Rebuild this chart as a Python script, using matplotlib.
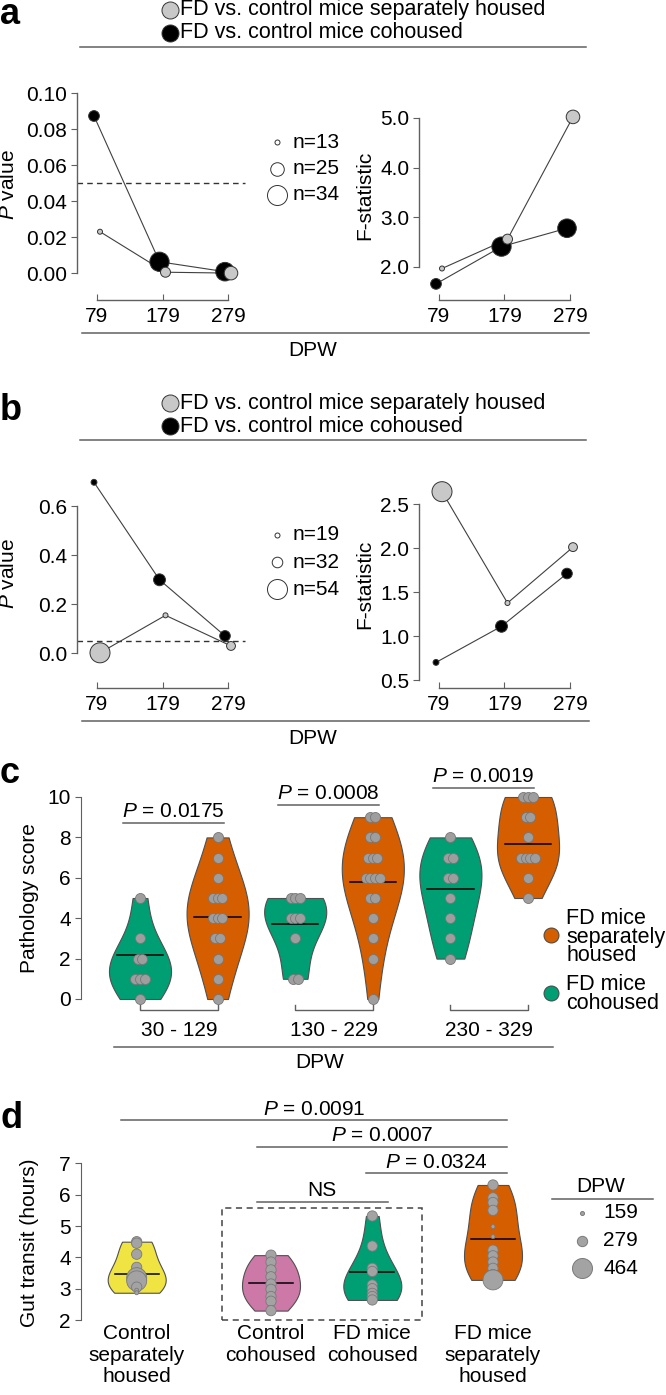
import numpy as np
import matplotlib
matplotlib.use("Agg")
import matplotlib.pyplot as plt
import matplotlib.transforms as mtransforms
from matplotlib.lines import Line2D
from matplotlib.patches import Rectangle

plt.rcParams['font.family'] = ['Liberation Sans', 'DejaVu Sans']
plt.rcParams['mathtext.fontset'] = 'custom'
plt.rcParams['mathtext.rm'] = 'Liberation Sans'
plt.rcParams['mathtext.it'] = 'Liberation Sans:italic'

### data
dpw = [79, 179, 279]

# panel a
a_p_sep = [0.0231, 0.0006, 0.0001]
a_p_co = [0.0874, 0.0064, 0.0009]
a_f_sep = [1.97, 2.56, 5.02]
a_f_co = [1.66, 2.41, 2.78]
a_n_sep = [13, 20, 25]
a_n_co = [21, 33, 32]
a_n_leg = [13, 25, 34]

# panel b
b_p_sep = [0.002, 0.155, 0.03]
b_p_co = [0.698, 0.30, 0.071]
b_f_sep = [2.64, 1.375, 2.01]
b_f_co = [0.70, 1.11, 1.71]
b_n_sep = [54, 19, 28]
b_n_co = [21, 35, 32]
b_n_leg = [19, 32, 54]

# panel c (pathology score)
c_groups = ['30 - 129', '130 - 229', '230 - 329']
c_co = [[0, 1, 1, 1, 2, 2, 3, 5],
        [1, 1, 3, 4, 4, 4, 5, 5, 5],
        [2, 3, 4, 5, 6, 6, 7, 7, 8]]
c_sep = [[0, 1, 2, 3, 3, 4, 4, 4, 5, 5, 5, 6, 7, 8],
         [0, 2, 3, 4, 5, 5, 6, 6, 6, 6, 7, 7, 7, 8, 8, 9, 9],
         [5, 6, 7, 7, 7, 7, 8, 9, 9, 10, 10, 10]]
c_co_mean = [2.2, 3.7, 5.45]
c_sep_mean = [4.05, 5.8, 7.67]
c_pvals = ['0.0175', '0.0008', '0.0019']

# panel d (gut transit)
d_groups = ['Control\nseparately\nhoused', 'Control\ncohoused',
            'FD mice\ncohoused', 'FD mice\nseparately\nhoused']
d_vals = [[4.5, 4.45, 4.1, 3.68, 3.6, 3.35, 3.25, 3.05, 2.95, 2.87],
          [4.07, 3.85, 3.6, 3.38, 3.15, 2.98, 2.75, 2.6, 2.3],
          [5.32, 4.36, 3.65, 3.55, 3.12, 3.0, 2.85, 2.75, 2.64],
          [6.31, 5.9, 5.75, 5.5, 4.98, 4.66, 4.23, 4.05, 3.85, 3.65, 3.45, 3.28]]
d_dpw = [[279, 279, 279, 279, 159, 464, 464, 279, 159, 159],
         [279, 279, 279, 279, 279, 279, 279, 279, 279],
         [279, 279, 279, 279, 279, 279, 279, 279, 279],
         [279, 279, 279, 279, 159, 159, 279, 279, 279, 279, 279, 464]]
d_mean = [3.46, 3.17, 3.52, 4.6]
d_pairs = [(0, 3), (1, 3), (2, 3), (1, 2)]
d_plabels = ['$P$ = 0.0091', '$P$ = 0.0007', '$P$ = 0.0324', 'NS']
d_dpw_leg = [159, 279, 464]

### layout helpers (pixel coordinates, origin top-left)
W, H = 666, 1395
FS = 15
GL = '#606060'
GREEN = '#009E73'
ORANGE = '#D55E00'
PINK = '#CC79A7'
YELLOW = '#F0E442'
LGREY = '#c8c8c8'

fig = plt.figure(figsize=(W / 100, H / 100), dpi=100)


def fx(x):
    return x / W


def fy(y):
    return 1 - y / H


def px_axes(x0, y0, x1, y1):
    return fig.add_axes([fx(x0), fy(y1), (x1 - x0) / W, (y1 - y0) / H])


def span(p0, p1, ref_px, ref_val, ppu):
    return ref_val + (p0 - ref_px) / ppu, ref_val + (p1 - ref_px) / ppu


def ftext(x, y, s, **kw):
    kw.setdefault('fontsize', FS)
    fig.text(fx(x), fy(y), s, **kw)


def fline(x0, x1, y, **kw):
    fig.add_artist(Line2D([fx(x0), fx(x1)], [fy(y), fy(y)],
                          transform=fig.transFigure, color=GL, lw=1.1, **kw))


def fdot(x, y, d, fc, ec='#333333'):
    fig.add_artist(Line2D([fx(x)], [fy(y)], transform=fig.transFigure,
                          marker='o', ms=d * 0.72, mfc=fc, mec=ec, mew=0.7,
                          ls='none'))


def n_diam(n, leg):
    return 5 + (np.asarray(n, float) - leg[0]) / (leg[-1] - leg[0]) * 15


def dot_line(ax, ys, ns, leg, fc, shift, z):
    x = np.array(dpw, float) + shift
    d = n_diam(ns, leg)
    ax.plot(x, ys, color='#404040', lw=0.8, zorder=2, clip_on=False)
    ax.scatter(x, ys, s=(d * 0.72) ** 2, c=fc, edgecolors='#333333',
               linewidths=0.7, zorder=z, clip_on=False)


def style_pair(ax, yticks, fmt):
    for s in ['top', 'right']:
        ax.spines[s].set_visible(False)
    ax.spines['left'].set_bounds(yticks[0], yticks[-1])
    ax.spines['bottom'].set_bounds(dpw[0], dpw[-1])
    for s in ['left', 'bottom']:
        ax.spines[s].set_color(GL)
        ax.spines[s].set_linewidth(1.0)
    ax.set_xticks(dpw)
    ax.set_xticklabels([str(v) for v in dpw])
    ax.set_yticks(yticks)
    ax.set_yticklabels([fmt % v for v in yticks])
    ax.tick_params(axis='x', direction='in', length=4, pad=5, labelsize=FS, color=GL)
    ax.tick_params(axis='y', direction='out', length=4, pad=3, labelsize=FS, color=GL)


dodge = 3 / 0.655

### panels a and b
panels = [
    dict(top=0, p_sep=a_p_sep, p_co=a_p_co, f_sep=a_f_sep, f_co=a_f_co,
         n_sep=a_n_sep, n_co=a_n_co, leg=a_n_leg, y0=80, y1=300,
         pcal=(273.3, 0.0, 1800), fcal=(267, 2.0, 49.7),
         pticks=[0, 0.02, 0.04, 0.06, 0.08, 0.10], pfmt='%.2f',
         fticks=[2, 3, 4, 5], letter='a', lbase=24, ny=[142, 168.5, 195]),
    dict(top=393, p_sep=b_p_sep, p_co=b_p_co, f_sep=b_f_sep, f_co=b_f_co,
         n_sep=b_n_sep, n_co=b_n_co, leg=b_n_leg, y0=470, y1=688,
         pcal=(653.3, 0.0, 245), fcal=(636, 1.0, 88),
         pticks=[0, 0.2, 0.4, 0.6], pfmt='%.1f',
         fticks=[0.5, 1.0, 1.5, 2.0, 2.5], letter='b', lbase=420,
         ny=[535, 562, 589]),
]

for P in panels:
    t = P['top']
    y0, y1 = P['y0'], P['y1']
    ftext(0, P['lbase'], P['letter'], fontsize=26, fontweight='bold', va='baseline')
    # group legend
    fdot(170, t + 10, 17, LGREY)
    ftext(180, t + 10, 'FD vs. control mice separately housed', va='center',
          fontsize=15.5)
    fdot(170, t + 33, 17, 'black')
    ftext(180, t + 33, 'FD vs. control mice cohoused', va='center', fontsize=15.5)
    fline(80, 586, t + 47)

    # P value
    ax = px_axes(77, y0, 250, y1)
    ax.set_xlim(span(77, 250, 97, 79, 0.655))
    ref, val, ppu = P['pcal']
    ax.set_ylim(span(y1, y0, ref, val, -ppu))
    ax.axhline(0.05, xmin=0, xmax=(245 - 77) / (250 - 77), color='#333333',
               lw=1.0, ls=(0, (4, 3)), zorder=1)
    dot_line(ax, P['p_co'], P['n_co'], P['leg'], 'black', -dodge, 3)
    dot_line(ax, P['p_sep'], P['n_sep'], P['leg'], LGREY, dodge, 4)
    style_pair(ax, P['pticks'], P['pfmt'])
    ftext(9, (y0 + y1) / 2 - 5, '$P$ value', rotation=90, ha='center', va='center')

    # F statistic
    ax2 = px_axes(419, y0, 590, y1)
    ax2.set_xlim(span(419, 590, 439, 79, 0.655))
    ref, val, ppu = P['fcal']
    ax2.set_ylim(span(y1, y0, ref, val, -ppu))
    dot_line(ax2, P['f_co'], P['n_co'], P['leg'], 'black', -dodge, 3)
    dot_line(ax2, P['f_sep'], P['n_sep'], P['leg'], LGREY, dodge, 4)
    style_pair(ax2, P['fticks'], '%.1f')
    ftext(365, (y0 + y1) / 2 + 5, 'F-statistic', rotation=90, ha='center', va='center')

    # n legend
    for n, yy in zip(P['leg'], P['ny']):
        fdot(277, yy, float(n_diam(n, P['leg'])), 'white')
        ftext(293, yy, 'n=%d' % n, va='center')

    # DPW line
    fline(82, 589, y1 + 33)
    ftext(313, y1 + 50, 'DPW', ha='center', va='center')

### panel c
ftext(0, 783, 'c', fontsize=26, fontweight='bold', va='baseline')
axc = px_axes(80.7, 780, 560, 1010)
axc.set_xlim(span(80.7, 560, 140, 0, 77.6))
axc.set_ylim(span(1010, 780, 999, 0, -20.2))


def spread(vals, step):
    vals = np.asarray(vals, float)
    off = np.zeros(len(vals))
    for v in np.unique(vals):
        idx = np.where(vals == v)[0]
        off[idx] = (np.arange(len(idx)) - (len(idx) - 1) / 2) * step
    return off


def violins(ax, data, pos, width, color, bw=0.75):
    parts = ax.violinplot(data, positions=pos, widths=width, showextrema=False,
                          bw_method=bw)
    for b in parts['bodies']:
        b.set_facecolor(color)
        b.set_edgecolor('#505050')
        b.set_linewidth(0.8)
        b.set_alpha(1)
        b.set_zorder(1)


pos_co = [2 * i for i in range(3)]
pos_sep = [2 * i + 1 for i in range(3)]
violins(axc, c_co, pos_co, 0.8, GREEN)
violins(axc, c_sep, pos_sep, 0.8, ORANGE)
for pos, data, means in [(pos_co, c_co, c_co_mean), (pos_sep, c_sep, c_sep_mean)]:
    for p, vals, m in zip(pos, data, means):
        axc.plot([p - 0.3, p + 0.3], [m, m], color='black', lw=1.1, zorder=2)
        axc.scatter(p + spread(vals, 0.06), vals, s=(10 * 0.72) ** 2, c='#9e9e9e',
                    edgecolors='#777777', linewidths=0.6, zorder=3, clip_on=False)

for s in ['top', 'right', 'bottom']:
    axc.spines[s].set_visible(False)
axc.spines['left'].set_bounds(0, 10)
axc.spines['left'].set_color(GL)
axc.set_yticks(range(0, 11, 2))
axc.set_xticks([])
axc.tick_params(axis='y', direction='out', length=4, pad=3, labelsize=FS, color=GL)
ftext(30, 898, 'Pathology score', rotation=90, ha='center', va='center')

ylo = axc.get_ylim()[0]
tick_h = 5 / 20.2
for i, g in enumerate(c_groups):
    a0, a1 = pos_co[i], pos_sep[i]
    axc.plot([a0, a0, a1, a1], [ylo + tick_h, ylo, ylo, ylo + tick_h],
             color=GL, lw=1.0, clip_on=False)
    axc.text((a0 + a1) / 2, ylo - 20 / 20.2, g, ha='center', va='center', fontsize=FS)

c_bar_y = [8.73, 9.6, 10.46]
for i, pv in enumerate(c_pvals):
    a0, a1 = pos_co[i] - 0.22, pos_sep[i] + 0.08
    axc.plot([a0, a1], [c_bar_y[i]] * 2, color=GL, lw=1.1, clip_on=False)
    axc.text((a0 + a1) / 2, c_bar_y[i] + 0.28, '$P$ = ' + pv, ha='center',
             va='baseline', fontsize=FS)

fline(114, 553, 1047)
ftext(320, 1063, 'DPW', ha='center', va='center')

fdot(551, 935, 15, ORANGE, ec='#444444')
ftext(566, 937, 'FD mice\nseparately\nhoused', va='center', linespacing=0.86,
      fontsize=15.5)
fdot(551, 993, 15, GREEN, ec='#444444')
ftext(566, 994, 'FD mice\ncohoused', va='center', linespacing=0.86, fontsize=15.5)

### panel d
ftext(0, 1128, 'd', fontsize=26, fontweight='bold', va='baseline')
axd = px_axes(80.7, 1100, 560, 1320)
axd.set_xlim(span(80.7, 560, 136.7, 0, 100))
axd.set_ylim(span(1320, 1100, 1320, 2, -31.33))
pos_d = [0, 1.343, 2.356, 3.563]
colors_d = [YELLOW, PINK, GREEN, ORANGE]


def dpw_diam(v):
    return 4 + (np.asarray(v, float) - 159) * 16 / 305


for p, vals, dp, m, col in zip(pos_d, d_vals, d_dpw, d_mean, colors_d):
    violins(axd, [vals], [p], 0.58, col, bw=0.7)
    axd.plot([p - 0.22, p + 0.22], [m, m], color='black', lw=1.1, zorder=2)
    axd.scatter([p] * len(vals), vals, s=(dpw_diam(dp) * 0.72) ** 2, c='#a3a3a3',
                edgecolors='#7a7a7a', linewidths=0.6, zorder=3, clip_on=False)

axd.add_patch(Rectangle((0.85, 2), 2.006, 3.565, fill=False, ec='#444444',
                        lw=1.1, ls=(0, (4, 3)), clip_on=False))

for s in ['top', 'right', 'bottom']:
    axd.spines[s].set_visible(False)
axd.spines['left'].set_bounds(2, 7)
axd.spines['left'].set_color(GL)
axd.set_yticks(range(2, 8))
axd.set_xticks([])
axd.tick_params(axis='y', direction='out', length=4, pad=3, labelsize=FS, color=GL)
ftext(30, 1243, 'Gut transit (hours)', rotation=90, ha='center', va='center')

trans = mtransforms.blended_transform_factory(axd.transData, axd.transAxes)
for p, lab in zip(pos_d, d_groups):
    axd.text(p, -4 / 220, lab, transform=trans, ha='center', va='top',
             fontsize=FS, linespacing=1.18)

d_bar_y = [8.38, 7.53, 6.68, 5.776]
d_bar_pad = [(0.157, 0.143), (0.143, 0.143), (0.06, 0.143), (0.143, 0.157)]
for (i, j), lab, yb, (l, r) in zip(d_pairs, d_plabels, d_bar_y, d_bar_pad):
    a0, a1 = pos_d[i] - l, pos_d[j] + r
    axd.plot([a0, a1], [yb, yb], color=GL, lw=1.1, clip_on=False)
    axd.text((a0 + a1) / 2, yb + 0.17, lab, ha='center', va='baseline', fontsize=FS)

# DPW size legend
ftext(601, 1187, 'DPW', ha='center', va='center')
fline(552, 653, 1199.3)
for k, v in enumerate(d_dpw_leg):
    yy = 1212.7 + 27.8 * k
    fdot(582, yy, float(dpw_diam(v)), '#a3a3a3', ec='#7a7a7a')
    ftext(603, yy, str(v), va='center')

fig.savefig('out.png', dpi=100)
